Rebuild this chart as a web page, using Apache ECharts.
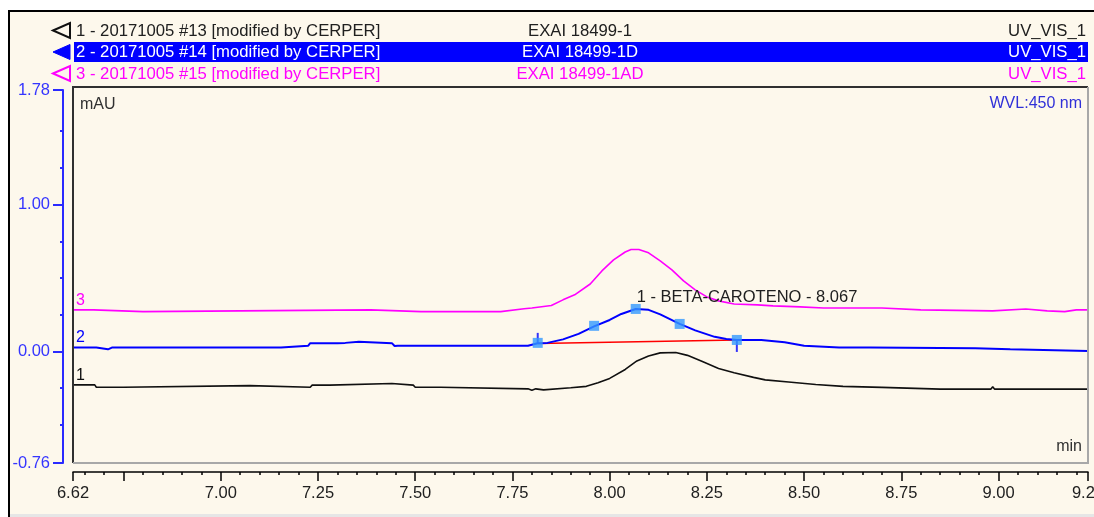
<!DOCTYPE html>
<html>
<head>
<meta charset="utf-8">
<script src="https://cdn.jsdelivr.net/npm/echarts@6/dist/echarts.min.js"></script>
<style>
  html, body { margin: 0; padding: 0; background: #ffffff; overflow: hidden; }
  #chart { width: 1094px; height: 517px; }
</style>
</head>
<body>
<div id="chart"></div>
<script>
// ---- Chromatogram traces: retention time (min) / absorbance (mAU) ----
const trace1Time = [6.62, 6.676, 6.68, 6.75, 6.755, 7.075, 7.08, 7.23, 7.235, 7.28, 7.285, 7.44, 7.445, 7.495, 7.50, 7.565, 7.57, 7.79, 7.80, 7.81, 7.83, 7.90, 7.94, 7.97, 8.00, 8.04, 8.07, 8.10, 8.13, 8.17, 8.20, 8.24, 8.28, 8.32, 8.37, 8.40, 8.46, 8.53, 8.60, 8.70, 8.85, 8.98, 8.985, 8.99, 9.23];
const trace1Value = [-0.228, -0.228, -0.244, -0.244, -0.233, -0.233, -0.244, -0.244, -0.230, -0.230, -0.219, -0.219, -0.230, -0.230, -0.244, -0.244, -0.255, -0.255, -0.264, -0.255, -0.262, -0.248, -0.238, -0.214, -0.184, -0.123, -0.065, -0.031, -0.010, -0.008, -0.027, -0.071, -0.116, -0.146, -0.177, -0.194, -0.208, -0.225, -0.238, -0.245, -0.257, -0.257, -0.240, -0.257, -0.257];

const trace2Time = [6.62, 6.68, 6.683, 6.71, 6.712, 6.72, 7.155, 7.16, 7.225, 7.23, 7.30, 7.305, 7.32, 7.325, 7.355, 7.36, 7.44, 7.447, 7.455, 7.79, 7.815, 7.84, 7.88, 7.92, 7.96, 8.00, 8.03, 8.067, 8.10, 8.13, 8.18, 8.22, 8.27, 8.30, 8.327, 8.39, 8.395, 8.45, 8.455, 8.50, 8.505, 8.59, 8.655, 8.66, 8.67, 8.94, 8.945, 9.03, 9.035, 9.23];
const trace2Value = [0.026, 0.026, 0.014, 0.014, 0.020, 0.026, 0.026, 0.039, 0.039, 0.056, 0.056, 0.065, 0.058, 0.065, 0.065, 0.056, 0.056, 0.037, 0.039, 0.039, 0.056, 0.058, 0.082, 0.119, 0.170, 0.214, 0.255, 0.289, 0.283, 0.252, 0.187, 0.143, 0.099, 0.085, 0.078, 0.078, 0.071, 0.063, 0.052, 0.039, 0.032, 0.026, 0.026, 0.034, 0.026, 0.022, 0.014, 0.014, 0.003, 0.003];

const trace3Time = [6.62, 6.673, 6.676, 6.80, 6.805, 7.385, 7.39, 7.515, 7.52, 7.53, 7.72, 7.725, 7.78, 7.80, 7.85, 7.88, 7.91, 7.95, 7.98, 8.01, 8.04, 8.055, 8.075, 8.10, 8.13, 8.16, 8.19, 8.22, 8.25, 8.28, 8.32, 8.38, 8.42, 8.49, 8.55, 8.70, 8.705, 8.80, 8.985, 9.07, 9.125, 9.17, 9.20, 9.23];
const trace3Value = [0.283, 0.283, 0.271, 0.271, 0.283, 0.283, 0.271, 0.271, 0.262, 0.271, 0.271, 0.276, 0.290, 0.296, 0.313, 0.351, 0.385, 0.459, 0.548, 0.623, 0.677, 0.694, 0.694, 0.671, 0.616, 0.555, 0.480, 0.419, 0.371, 0.344, 0.323, 0.317, 0.310, 0.303, 0.296, 0.296, 0.289, 0.283, 0.276, 0.289, 0.276, 0.271, 0.283, 0.283];

// Integration baseline and peak markers of trace 2
const baselineTime = [7.815, 8.327];
const baselineValue = [0.054, 0.078];
const markerTime = [7.815, 7.96, 8.067, 8.18, 8.327];
const markerValue = [0.058, 0.174, 0.289, 0.187, 0.078];

const peakNumber = 1;
const peakName = 'BETA-CAROTENO';
const peakTime = 8.067;
const peakValue = 0.289;

// ---- Axes ----
const xMin = 6.62, xMax = 9.23;
const yMin = -0.76, yMax = 1.78;
const xTickLabels = [6.62, 7.00, 7.25, 7.50, 7.75, 8.00, 8.25, 8.50, 8.75, 9.00, 9.23];
const xMajorTicks = [6.62, 6.75, 7.00, 7.25, 7.50, 7.75, 8.00, 8.25, 8.50, 8.75, 9.00, 9.23];
const yTickLabels = [-0.76, 0.00, 1.00, 1.78];
const yMinorTicks = [-0.50, -0.25, 0.25, 0.50, 0.75, 1.25, 1.50];

// header rows
const traceNames = ['1', '2', '3'];
const rowTitles = ['1 - 20171005 #13 [modified by CERPER]', '2 - 20171005 #14 [modified by CERPER]', '3 - 20171005 #15 [modified by CERPER]'];
const rowSamples = ['EXAI 18499-1', 'EXAI 18499-1D', 'EXAI 18499-1AD'];
const rowChannels = ['UV_VIS_1', 'UV_VIS_1', 'UV_VIS_1'];
const wavelengthText = 'WVL:450 nm';

// minor x ticks every 0.05 min between the major ones
const xMinorTicks = [];
for (let k = 133; k <= 184; k++) {
  const v = k / 20;
  if (k % 5 !== 0 && Math.abs(v - 6.75) > 1e-9) xMinorTicks.push(Math.round(v * 100) / 100);
}

const zip = (a, b) => a.map((t, i) => [t, b[i]]);

const FONT = 'Liberation Sans, Arial, sans-serif';
const CREAM = '#fdf8ec';
const traceColors = ['#101010', '#0000ff', '#ff00ff'];

const chart = echarts.init(document.getElementById('chart'), null, { renderer: 'canvas' });

// small label naming a trace, placed just above its first point
function nameItem(time, value, idx) {
  return {
    coord: [time[0], value[0]],
    label: {
      show: true, position: 'top', align: 'left', distance: 1, offset: [3, 0],
      formatter: traceNames[idx], color: traceColors[idx], fontSize: 16, fontFamily: FONT
    }
  };
}
const markBase = {
  symbol: 'rect', symbolSize: 1, silent: true,
  itemStyle: { color: 'rgba(0,0,0,0)' }
};

const rowY = [31, 52.5, 74];
const graphics = [];
// frame
graphics.push({ type: 'rect', shape: { x: 0, y: 0, width: 1094, height: 10 }, style: { fill: '#ffffff' }, z: 100 });
graphics.push({ type: 'rect', shape: { x: 0, y: 0, width: 8, height: 517 }, style: { fill: '#ffffff' }, z: 100 });
graphics.push({ type: 'polyline', shape: { points: [[9, 517], [9, 11], [1094, 11]] }, style: { stroke: '#000', lineWidth: 2, fill: null }, z: 101 });
graphics.push({ type: 'rect', shape: { x: 9, y: 514, width: 1085, height: 3 }, style: { fill: '#e6e6e6' }, z: 100 });
// highlighted row
graphics.push({ type: 'rect', shape: { x: 74, y: 42, width: 1014, height: 20 }, style: { fill: '#0000ff' }, z: 100 });
rowY.forEach((y, i) => {
  const tri = [[53, y - 0.5], [70, y - 8], [70, y + 7]];
  graphics.push({
    type: 'polygon', shape: { points: tri },
    style: i === 1 ? { fill: '#0000ff', stroke: '#0000ff', lineWidth: 1 } : { fill: null, stroke: traceColors[i], lineWidth: 2 },
    z: 101
  });
  const col = i === 1 ? '#ffffff' : (i === 0 ? '#202020' : '#ff00ff');
  graphics.push({ type: 'text', x: 76, y: y, style: { text: rowTitles[i], fill: col, font: '16.7px ' + FONT, textVerticalAlign: 'middle' }, z: 102 });
  graphics.push({ type: 'text', x: 580, y: y, style: { text: rowSamples[i], fill: col, font: '16.7px ' + FONT, textAlign: 'center', textVerticalAlign: 'middle' }, z: 102 });
  graphics.push({ type: 'text', x: 1086, y: y, style: { text: rowChannels[i], fill: col, font: '16.7px ' + FONT, textAlign: 'right', textVerticalAlign: 'middle' }, z: 102 });
});
// plot box
graphics.push({ type: 'polyline', shape: { points: [[73, 463], [73, 87], [1088, 87]] }, style: { stroke: '#303030', lineWidth: 2, fill: null }, z: 50 });
graphics.push({ type: 'polyline', shape: { points: [[73, 463], [1088, 463], [1088, 87]] }, style: { stroke: '#a8a8a8', lineWidth: 2, fill: null }, z: 50 });
graphics.push({ type: 'text', x: 80, y: 105, style: { text: 'mAU', fill: '#303030', font: '16px ' + FONT, textVerticalAlign: 'middle' }, z: 60 });
graphics.push({ type: 'text', x: 1082, y: 104, style: { text: wavelengthText, fill: '#3030d8', font: '16px ' + FONT, textAlign: 'right', textVerticalAlign: 'middle' }, z: 60 });
graphics.push({ type: 'text', x: 1082, y: 447, style: { text: 'min', fill: '#303030', font: '16px ' + FONT, textAlign: 'right', textVerticalAlign: 'middle' }, z: 60 });

const option = {
  animation: false,
  backgroundColor: CREAM,
  grid: { left: 73, right: 6, top: 90, bottom: 54, containLabel: false, outerBoundsMode: 'none' },
  xAxis: [
    {
      type: 'value', min: xMin, max: xMax, offset: 9, position: 'bottom',
      axisLine: { show: true, onZero: false, lineStyle: { color: '#000', width: 1.5 } },
      axisTick: { show: true, inside: false, length: 9, customValues: xMajorTicks, lineStyle: { color: '#000', width: 1.5 } },
      axisLabel: { show: true, customValues: xTickLabels, margin: 13, color: '#202020', fontSize: 16.5, fontFamily: FONT, formatter: v => v.toFixed(2), hideOverlap: false },
      splitLine: { show: false }
    },
    {
      type: 'value', min: xMin, max: xMax, offset: 9, position: 'bottom',
      axisLine: { show: false, onZero: false },
      axisTick: { show: true, inside: false, length: 3, customValues: xMinorTicks, lineStyle: { color: '#000', width: 1.5 } },
      axisLabel: { show: false },
      splitLine: { show: false }
    }
  ],
  yAxis: [
    {
      type: 'value', min: yMin, max: yMax, offset: 10, position: 'left',
      axisLine: { show: true, onZero: false, lineStyle: { color: '#2a2aff', width: 2 } },
      axisTick: { show: true, length: 10, customValues: yTickLabels, lineStyle: { color: '#2a2aff', width: 2 } },
      axisLabel: { show: true, customValues: yTickLabels, margin: 13, color: '#3535ff', fontSize: 16.5, fontFamily: FONT, formatter: v => v.toFixed(2) },
      splitLine: { show: false }
    },
    {
      type: 'value', min: yMin, max: yMax, offset: 10, position: 'left',
      axisLine: { show: false, onZero: false },
      axisTick: { show: true, length: 3, customValues: yMinorTicks, lineStyle: { color: '#2a2aff', width: 2 } },
      axisLabel: { show: false },
      splitLine: { show: false }
    }
  ],
  series: [
    {
      type: 'line', name: traceNames[0], data: zip(trace1Time, trace1Value), showSymbol: false, symbol: 'none',
      lineStyle: { color: traceColors[0], width: 1.6 }, z: 3,
      markPoint: Object.assign({}, markBase, { data: [nameItem(trace1Time, trace1Value, 0)] })
    },
    {
      type: 'line', name: traceNames[2], data: zip(trace3Time, trace3Value), showSymbol: false, symbol: 'none',
      lineStyle: { color: traceColors[2], width: 1.6 }, z: 3,
      markPoint: Object.assign({}, markBase, { data: [nameItem(trace3Time, trace3Value, 2)] })
    },
    {
      type: 'line', name: 'baseline', data: zip(baselineTime, baselineValue), showSymbol: false, symbol: 'none',
      lineStyle: { color: '#ff0000', width: 1.6 }, z: 4
    },
    {
      type: 'line', name: traceNames[1], data: zip(trace2Time, trace2Value), showSymbol: false, symbol: 'none',
      lineStyle: { color: traceColors[1], width: 2 }, z: 5,
      markPoint: Object.assign({}, markBase, {
        data: [
          nameItem(trace2Time, trace2Value, 1),
          {
            coord: [peakTime, peakValue],
            label: {
              show: true, position: 'top', align: 'left', distance: 3, offset: [1, 0],
              formatter: peakNumber + ' - ' + peakName + ' - ' + peakTime.toFixed(3),
              color: '#202020', fontSize: 16.5, fontFamily: FONT
            }
          }
        ]
      })
    },
    {
      type: 'scatter', name: 'peak start', data: [[markerTime[0], markerValue[0]]],
      symbol: 'rect', symbolSize: [2, 10], symbolOffset: [0, -5], itemStyle: { color: '#0000ff' }, z: 6
    },
    {
      type: 'scatter', name: 'peak end', data: [[markerTime[4], markerValue[4]]],
      symbol: 'rect', symbolSize: [2, 12], symbolOffset: [0, 6], itemStyle: { color: '#0000ff' }, z: 6
    },
    {
      type: 'scatter', name: 'markers', data: zip(markerTime, markerValue),
      symbol: 'rect', symbolSize: 10, itemStyle: { color: '#3399ff' }, z: 7
    }
  ],
  graphic: graphics
};

chart.setOption(option);
</script>
</body>
</html>
